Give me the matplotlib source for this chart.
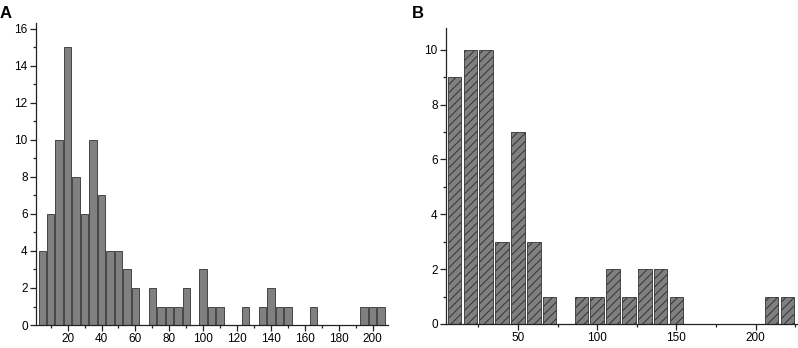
import matplotlib
matplotlib.use('Agg')
import matplotlib.pyplot as plt
from matplotlib.ticker import MultipleLocator

plt.rcParams['font.family'] = ['Liberation Sans', 'DejaVu Sans']
plt.rcParams['hatch.linewidth'] = 0.7

# Panel A: counts in 5-unit bins
a_centers = list(range(5, 210, 5))
a_counts = [4, 6, 10, 15, 8, 6, 10, 7, 4, 4, 3, 2, 0, 2, 1, 1, 1, 2, 0, 3,
            1, 1, 0, 0, 1, 0, 1, 2, 1, 1, 0, 0, 1, 0, 0, 0, 0, 0, 1, 1, 1]

# Panel B: counts in 10-unit bins
b_centers = list(range(10, 230, 10))
b_counts = [9, 10, 10, 3, 7, 3, 1, 0, 1, 1, 2, 1, 2, 2, 1, 0, 0, 0, 0, 0, 1, 1]

BAR_COLOR = '#808080'
AXIS_COLOR = '#222222'


def style_axis(ax):
    for side in ('top', 'right'):
        ax.spines[side].set_visible(False)
    for side in ('left', 'bottom'):
        ax.spines[side].set_color(AXIS_COLOR)
        ax.spines[side].set_linewidth(0.9)
    ax.tick_params(which='major', direction='out', length=4, width=0.9,
                   colors=AXIS_COLOR, labelsize=8.5, labelcolor='black', pad=2)
    ax.tick_params(which='minor', direction='out', length=2.5, width=0.9,
                   colors=AXIS_COLOR)


fig = plt.figure(figsize=(7.98, 3.48), dpi=100)

# --- A ---
axA = fig.add_axes([0.0451, 0.066, 0.4409, 0.868])
nz = [(c, v) for c, v in zip(a_centers, a_counts) if v > 0]
axA.bar([c for c, _ in nz], [v for _, v in nz], width=4.4, color=BAR_COLOR,
        edgecolor='#333333', linewidth=0.6)
axA.set_xlim(1.3, 209)
axA.set_ylim(0, 16.3)
axA.xaxis.set_major_locator(MultipleLocator(20))
axA.xaxis.set_minor_locator(MultipleLocator(10))
axA.yaxis.set_major_locator(MultipleLocator(2))
axA.yaxis.set_minor_locator(MultipleLocator(1))
style_axis(axA)

# --- B ---
axB = fig.add_axes([0.559, 0.069, 0.4397, 0.851])
nz = [(c, v) for c, v in zip(b_centers, b_counts) if v > 0]
axB.bar([c for c, _ in nz], [v for _, v in nz], width=8.6, color=BAR_COLOR,
        edgecolor='#333333', linewidth=0.6, hatch='////')
axB.set_xlim(4.7, 226)
axB.set_ylim(0, 10.8)
axB.xaxis.set_major_locator(MultipleLocator(50))
axB.xaxis.set_minor_locator(MultipleLocator(25))
axB.yaxis.set_major_locator(MultipleLocator(2))
axB.yaxis.set_minor_locator(MultipleLocator(1))
style_axis(axB)

fig.text(6 / 798, 1 - 13 / 348, 'A', fontsize=12, fontweight='bold',
         ha='center', va='center')
fig.text(418 / 798, 1 - 14 / 348, 'B', fontsize=12, fontweight='bold',
         ha='center', va='center')

fig.savefig('out.png', dpi=100, facecolor='white')
